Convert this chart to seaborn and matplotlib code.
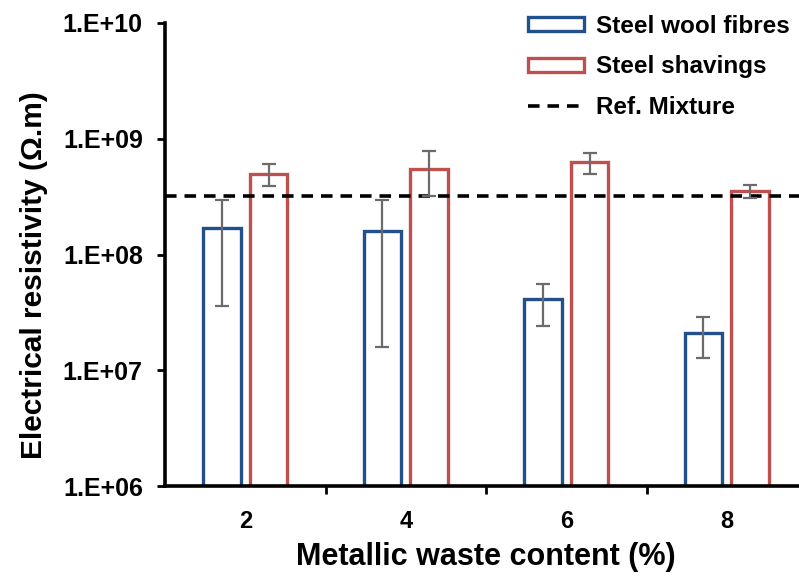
import numpy as np
import pandas as pd
import matplotlib
matplotlib.use("Agg")
import matplotlib.pyplot as plt
import seaborn as sns
from matplotlib.patches import Patch
from matplotlib.lines import Line2D
from matplotlib.ticker import FixedLocator, FuncFormatter, NullLocator

# values
contents = ["2", "4", "6", "8"]
materials = ["Steel wool fibres", "Steel shavings"]
wool_vals = [1.68e8, 1.59e8, 4.1e7, 2.1e7]
wool_err_lo = [3.6e7, 1.6e7, 2.4e7, 1.27e7]
wool_err_hi = [2.93e8, 2.93e8, 5.6e7, 2.87e7]
shav_vals = [4.98e8, 5.5e8, 6.28e8, 3.55e8]
shav_err_lo = [3.87e8, 3.19e8, 5.0e8, 3.1e8]
shav_err_hi = [6.0e8, 7.8e8, 7.5e8, 4.0e8]
ref_mixture = 3.2e8

colors = {"Steel wool fibres": "#22508C", "Steel shavings": "#C0504D"}

sns.set_style("white")
plt.rcParams['font.family'] = ['Liberation Sans', 'DejaVu Sans']
plt.rcParams['font.weight'] = 'bold'
for key in ['text.color', 'axes.labelcolor', 'xtick.color', 'ytick.color']:
    plt.rcParams[key] = 'black'

df = pd.DataFrame({
    "content": contents * 2,
    "material": [materials[0]] * 4 + [materials[1]] * 4,
    "value": wool_vals + shav_vals,
})

fig = plt.figure(figsize=(7.99, 5.76), dpi=100)
ax = fig.add_axes([165 / 799, 90 / 576, 642 / 799, 463 / 576])
ax.set_yscale('log')

sns.barplot(data=df, x="content", y="value", hue="material", hue_order=materials,
            order=contents, palette=colors, fill=False, width=0.58, gap=0.2,
            linewidth=2.4, errorbar=None, legend=False, ax=ax)

# error bars at bar centres
lows = wool_err_lo + shav_err_lo
highs = wool_err_hi + shav_err_hi
vals = wool_vals + shav_vals
bars = [p for p in ax.patches][:8]
for p, v, lo, hi in zip(bars, vals, lows, highs):
    xc = p.get_x() + p.get_width() / 2
    ax.errorbar(xc, v, yerr=[[v - lo], [hi - v]], fmt='none', ecolor='#6b6b6b',
                elinewidth=1.6, capsize=5, capthick=1.6, zorder=5)

ax.axhline(ref_mixture, color='black', ls=(0, (3.2, 2.2)), lw=2.6, zorder=4)

ax.set_ylim(1e6, 1e10)
ax.set_xlim(-0.5, 3.5)
ax.yaxis.set_major_locator(FixedLocator([1e6, 1e7, 1e8, 1e9, 1e10]))
ax.yaxis.set_minor_locator(NullLocator())
ax.yaxis.set_major_formatter(FuncFormatter(lambda v, _: "1.E+%02d" % int(round(np.log10(v)))))
ax.tick_params(axis='y', which='major', direction='out', length=6, width=2,
               labelsize=18, pad=10, left=True)
ax.set_xticks(range(4))
ax.set_xticklabels(contents)
ax.xaxis.set_minor_locator(FixedLocator([0.5, 1.5, 2.5]))
ax.tick_params(axis='x', which='major', length=0, labelsize=17, pad=17)
ax.tick_params(axis='x', which='minor', direction='out', length=6, width=2, bottom=True)
for lab in ax.get_xticklabels() + ax.get_yticklabels():
    lab.set_fontweight('bold')

for side in ['top', 'right']:
    ax.spines[side].set_visible(False)
for side in ['left', 'bottom']:
    ax.spines[side].set_linewidth(2.6)
    ax.spines[side].set_color('black')

ax.set_xlabel("Metallic waste content (%)", fontsize=22, fontweight='bold', labelpad=7)
ax.set_ylabel("Electrical resistivity (Ω.m)", fontsize=21.5, fontweight='bold')
ax.yaxis.set_label_coords(-0.182, 0.455)

handles = [
    Patch(facecolor='white', edgecolor=colors[materials[0]], linewidth=2.4, label=materials[0]),
    Patch(facecolor='white', edgecolor=colors[materials[1]], linewidth=2.4, label=materials[1]),
    Line2D([0], [0], color='black', ls=(0, (3.2, 2.2)), lw=2.6, label="Ref. Mixture"),
]
leg = fig.legend(handles=handles, loc='upper left', bbox_to_anchor=(506 / 799, 1.012),
                 frameon=False, prop={'size': 17.5, 'weight': 'bold'},
                 handlelength=2.3, handleheight=0.5, labelspacing=0.72, handletextpad=0.5)

fig.savefig("out.png", dpi=100)
